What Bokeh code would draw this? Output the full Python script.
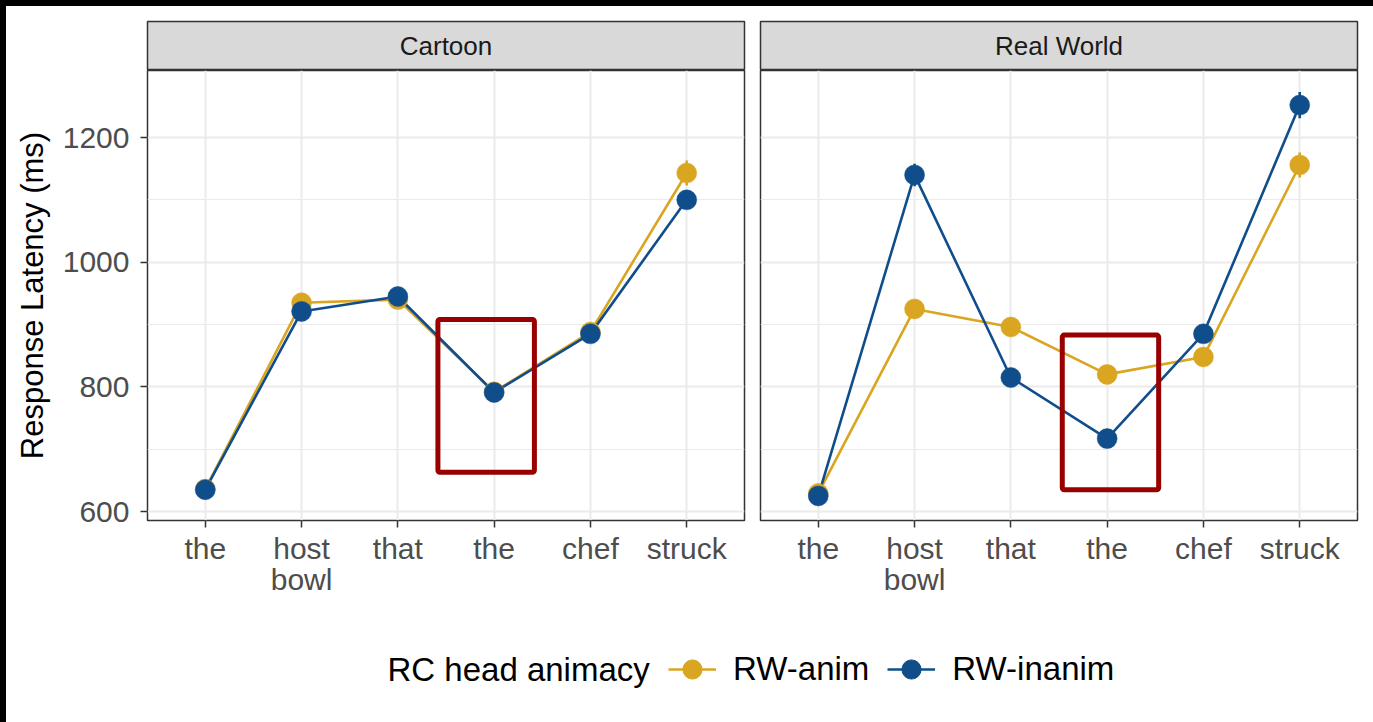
import math
from bokeh.plotting import figure
from bokeh.models import (ColumnDataSource, FixedTicker, Grid, Range1d, Label,
                          Legend, LegendItem, BoxAnnotation)
from bokeh.layouts import column, row
from bokeh.embed import file_html
from bokeh.resources import INLINE
from bokeh.core.properties import value

# ---------------- data ----------------
panels = ["Cartoon", "Real World"]
words = ["the", "host\nbowl", "that", "the", "chef", "struck"]
groups = ["RW-anim", "RW-inanim"]
colors = ["#DAA520", "#104E8B"]

cartoon_anim = [636, 935, 940, 792, 888, 1143]
cartoon_inanim = [635, 921, 945, 791, 885, 1100]
cartoon_anim_se = [8, 12, 12, 10, 10, 20]
cartoon_inanim_se = [8, 12, 13, 10, 10, 14]

real_anim = [629, 925, 896, 820, 848, 1156]
real_inanim = [625, 1140, 815, 717, 885, 1252]
real_anim_se = [8, 12, 12, 10, 12, 20]
real_inanim_se = [8, 18, 12, 12, 12, 21]

y_ticks = [600, 800, 1000, 1200]
y_minor = [700, 900, 1100]

# highlight boxes (data units) per panel
box_left = [3.416, 3.534]
box_right = [4.418, 4.535]
box_bottom = [663, 635]
box_top = [908, 883]

legend_title = "RC head animacy"
y_title = "Response Latency (ms)"

FONT = "Liberation Sans"
x_pos = [i + 1 for i in range(len(words))]

series = {
    "Cartoon": [(cartoon_anim, cartoon_anim_se), (cartoon_inanim, cartoon_inanim_se)],
    "Real World": [(real_anim, real_anim_se), (real_inanim, real_inanim_se)],
}

FRAME_W = 597
FRAME_H = 450
STRIP_H = 49
TOP = 15
LW = 2.6


def make_strip(name, left, right):
    s = figure(width=left + FRAME_W + right, height=TOP + STRIP_H,
               x_range=Range1d(0, 1), y_range=Range1d(0, 1),
               x_axis_location=None, y_axis_location=None,
               toolbar_location=None, output_backend="svg", title=None,
               min_border_left=left, min_border_right=right,
               min_border_top=TOP, min_border_bottom=0,
               background_fill_color="#D9D9D9",
               outline_line_color="#333333", outline_line_width=1.5)
    s.center = [r for r in s.center if not isinstance(r, Grid)]
    src = ColumnDataSource(dict(x=[0.5], y=[0.5], t=[name]))
    s.text(x="x", y="y", text="t", source=src, text_align="center",
           text_baseline="middle", text_font=value(FONT),
           text_font_size="26px", text_color="#1A1A1A")
    return s


def make_panel(idx, name, left, right):
    first = idx == 0
    p = figure(width=left + FRAME_W + right, height=FRAME_H + 90,
               x_range=Range1d(0.4, 6.6), y_range=Range1d(585.6, 1307.5),
               y_axis_location="left" if first else None,
               toolbar_location=None, output_backend="svg", title=None,
               min_border_left=left, min_border_right=right,
               min_border_top=0, min_border_bottom=90,
               outline_line_color="#333333", outline_line_width=1.5)
    p.center = [r for r in p.center if not isinstance(r, Grid)]
    p.add_layout(Grid(dimension=0, ticker=FixedTicker(ticks=x_pos),
                      grid_line_color="#EBEBEB", grid_line_width=2), "center")
    p.add_layout(Grid(dimension=1, ticker=FixedTicker(ticks=y_ticks, minor_ticks=y_minor),
                      grid_line_color="#EBEBEB", grid_line_width=2,
                      minor_grid_line_color="#EBEBEB", minor_grid_line_width=1), "center")

    axes = list(p.xaxis) + (list(p.yaxis) if first else [])
    for ax in axes:
        ax.axis_line_color = None
        ax.major_tick_line_color = "#333333"
        ax.major_tick_line_width = 1.5
        ax.major_tick_out = 7
        ax.major_tick_in = 0
        ax.minor_tick_line_color = None
        ax.major_label_text_font = FONT
        ax.major_label_text_font_size = "30px"
        ax.major_label_text_color = "#4D4D4D"
    xa = p.xaxis[0]
    xa.ticker = FixedTicker(ticks=x_pos)
    xa.major_label_overrides = {x: w for x, w in zip(x_pos, words)}
    xa.major_label_standoff = 4
    xa.major_label_text_line_height = 0.96
    if first:
        ya = p.yaxis[0]
        ya.ticker = FixedTicker(ticks=y_ticks)
        ya.major_label_standoff = 11
        ya.axis_label = y_title
        ya.axis_label_text_font = FONT
        ya.axis_label_text_font_size = "31px"
        ya.axis_label_text_font_style = "normal"
        ya.axis_label_text_color = "black"
        ya.axis_label_standoff = 10

    data = series[name]
    srcs = []
    for (vals, se), col in zip(data, colors):
        src = ColumnDataSource(dict(x=x_pos, y=vals,
                                    lo=[v - e for v, e in zip(vals, se)],
                                    hi=[v + e for v, e in zip(vals, se)]))
        srcs.append(src)
    for src, col in zip(srcs, colors):
        p.line("x", "y", source=src, line_color=col, line_width=LW)
    for src, col in zip(srcs, colors):
        p.segment(x0="x", y0="lo", x1="x", y1="hi", source=src, line_color=col, line_width=LW)
        p.scatter("x", "y", source=src, size=20, fill_color=col, line_color=col, line_width=0.5)

    p.add_layout(BoxAnnotation(left=box_left[idx], right=box_right[idx],
                               bottom=box_bottom[idx], top=box_top[idx],
                               fill_color=None, fill_alpha=0,
                               line_color="#990000", line_alpha=1.0, line_width=5,
                               border_radius=2))
    return p


L1, R1 = 141, 8
L2, R2 = 8, 14

s1 = make_strip(panels[0], L1, R1)
s2 = make_strip(panels[1], L2, R2)
p1 = make_panel(0, panels[0], L1, R1)
p2 = make_panel(1, panels[1], L2, R2)

TOTAL_W = (L1 + FRAME_W + R1) + (L2 + FRAME_W + R2)
LG_H = 110
lg = figure(width=TOTAL_W, height=LG_H, x_range=Range1d(0, TOTAL_W), y_range=Range1d(0, LG_H),
            x_axis_location=None, y_axis_location=None, toolbar_location=None,
            output_backend="svg", title=None, min_border=0,
            min_border_left=0, min_border_right=0, min_border_top=0, min_border_bottom=0,
            outline_line_color=None)
lg.center = [r for r in lg.center if not isinstance(r, Grid)]
items = []
nan = float("nan")
for g, col in zip(groups, colors):
    src = ColumnDataSource(dict(x=[nan, nan], y=[nan, nan]))
    rl = lg.line("x", "y", source=src, line_color=col, line_width=LW)
    rp = lg.scatter("x", "y", source=src, size=20, fill_color=col, line_color=col)
    items.append(LegendItem(label=g, renderers=[rl, rp]))
leg = Legend(items=items, orientation="horizontal", location=(662, 25),
             glyph_width=48, glyph_height=52, label_standoff=17, spacing=18,
             padding=0, margin=0, border_line_color=None, background_fill_alpha=0,
             label_text_font=FONT, label_text_font_size="33px", label_text_color="black")
lg.add_layout(leg)
lg.add_layout(Label(x=381, y=51, x_units="screen", y_units="screen", text=legend_title,
                    text_baseline="middle", text_font=FONT, text_font_size="33px",
                    text_color="black"))

layout = column(row(s1, s2), row(p1, p2), lg)

html = file_html(layout, INLINE)
html = html.replace("</head>",
                    "<style>html{margin:0;padding:0;background:#000;}"
                    "body{margin:6px 0 0 6px;padding:0;background:#fff;}</style></head>", 1)
open("out.html", "w").write(html)
